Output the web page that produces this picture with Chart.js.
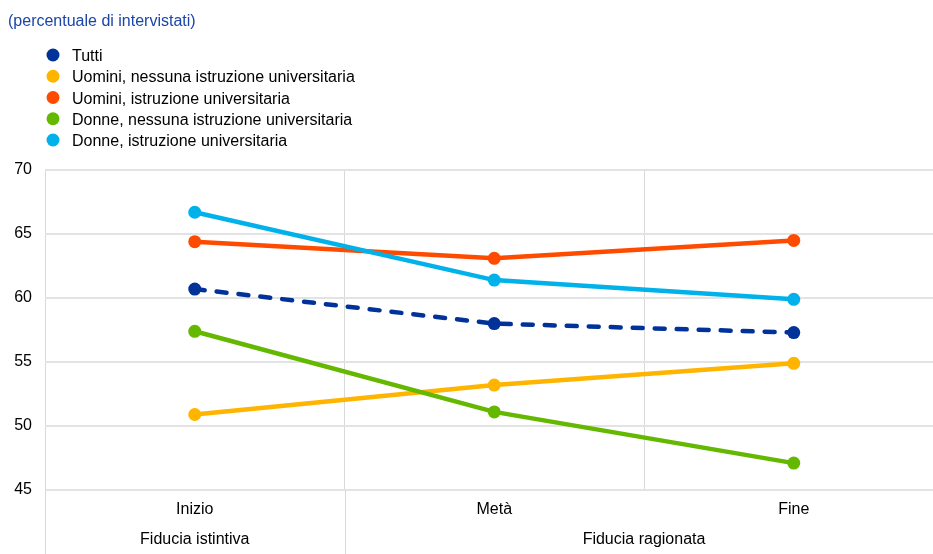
<!DOCTYPE html>
<html><head><meta charset="utf-8">
<script src="https://cdn.jsdelivr.net/npm/chart.js@4"></script>
<style>
html,body{margin:0;padding:0;overflow:hidden;background:#fff;width:933px;height:554px}
#wrap{position:absolute;left:0;top:0;width:950px;height:554px}
</style>
</head><body>
<div id="wrap"><canvas id="c" width="950" height="554"></canvas></div>
<script>
// ---- data ----
const titleText = '(percentuale di intervistati)';
const categories = ['Inizio', 'Metà', 'Fine'];
const groupLabels = ['Fiducia istintiva', 'Fiducia ragionata'];
const groupSpans = [[0, 0], [1, 2]];
const seriesNames = [
  'Tutti',
  'Uomini, nessuna istruzione universitaria',
  'Uomini, istruzione universitaria',
  'Donne, nessuna istruzione universitaria',
  'Donne, istruzione universitaria'
];
const tutti = [60.7, 58.0, 57.3];
const uominiNoUni = [50.9, 53.2, 54.9];
const uominiUni = [64.4, 63.1, 64.5];
const donneNoUni = [57.4, 51.1, 47.1];
const donneUni = [66.7, 61.4, 59.9];
const yMin = 45, yMax = 70, yStep = 5;

// ---- styles ----
const seriesColors = ['#003299', '#FFB400', '#FF4B00', '#65B800', '#00B1EA'];
const seriesValues = [tutti, uominiNoUni, uominiUni, donneNoUni, donneUni];
const FONT = "'Liberation Sans', Arial, sans-serif";
const FS = 16;
Chart.defaults.font.family = FONT;
Chart.defaults.font.size = FS;
Chart.defaults.color = '#000';

const datasets = seriesNames.map((name, i) => ({
  label: name,
  data: seriesValues[i],
  borderColor: seriesColors[i],
  backgroundColor: seriesColors[i],
  pointBackgroundColor: seriesColors[i],
  borderWidth: 4.5,
  pointRadius: 6.5,
  pointHoverRadius: 6.5,
  pointBorderWidth: 0,
  tension: 0,
  borderCapStyle: 'round',
  borderDash: i === 0 ? [10, 12] : [],
  order: seriesNames.length - 1 - i
}));

const extras = {
  id: 'extras',
  afterDraw(chart) {
    const { ctx, chartArea, scales: { x } } = chart;
    const H = chart.height;
    ctx.save();
    ctx.strokeStyle = '#d9d9d9';
    ctx.lineWidth = 1;
    const sep = (x.getPixelForValue(0) + x.getPixelForValue(1)) / 2;
    [chartArea.left, sep].forEach(px => {
      const xx = Math.round(px) + 0.5;
      ctx.beginPath(); ctx.moveTo(xx, chartArea.bottom); ctx.lineTo(xx, H); ctx.stroke();
    });
    ctx.font = FS + 'px ' + FONT;
    ctx.fillStyle = '#000';
    ctx.textAlign = 'center';
    ctx.textBaseline = 'alphabetic';
    groupLabels.forEach((g, i) => {
      const [a, b] = groupSpans[i];
      const cx = (x.getPixelForValue(a) + x.getPixelForValue(b)) / 2;
      ctx.fillText(g, cx, 544);
    });
    ctx.textAlign = 'left';
    ctx.fillStyle = '#1a46a8';
    ctx.fillText(titleText, 8, 26);
    chart.data.datasets.forEach((ds, i) => {
      const cy = 55 + i * 21.25;
      ctx.fillStyle = ds.borderColor;
      ctx.beginPath(); ctx.arc(53, cy, 6.5, 0, Math.PI * 2); ctx.fill();
      ctx.fillStyle = '#000';
      ctx.fillText(ds.label, 72, cy + 6);
    });
    ctx.restore();
  }
};

new Chart(document.getElementById('c'), {
  type: 'line',
  data: { labels: categories, datasets },
  plugins: [extras],
  options: {
    responsive: false,
    animation: false,
    devicePixelRatio: 1,
    layout: { padding: { top: 170, right: 5, left: 0, bottom: 0 } },
    plugins: { legend: { display: false }, tooltip: { enabled: false } },
    scales: {
      x: {
        type: 'category',
        offset: true,
        grid: { offset: true, color: '#d9d9d9', lineWidth: 1, drawTicks: false },
        border: { display: false },
        ticks: { color: '#000', font: { size: FS }, padding: 10, maxRotation: 0, autoSkip: false },
        afterFit(s) { s.height = 64; }
      },
      y: {
        min: yMin, max: yMax,
        ticks: { stepSize: yStep, color: '#000', font: { size: FS }, padding: 13 },
        grid: { color: '#e3e3e3', lineWidth: 2, drawTicks: false },
        border: { display: false },
        afterFit(s) { s.width = 45; }
      }
    }
  }
});
</script>
</body></html>
